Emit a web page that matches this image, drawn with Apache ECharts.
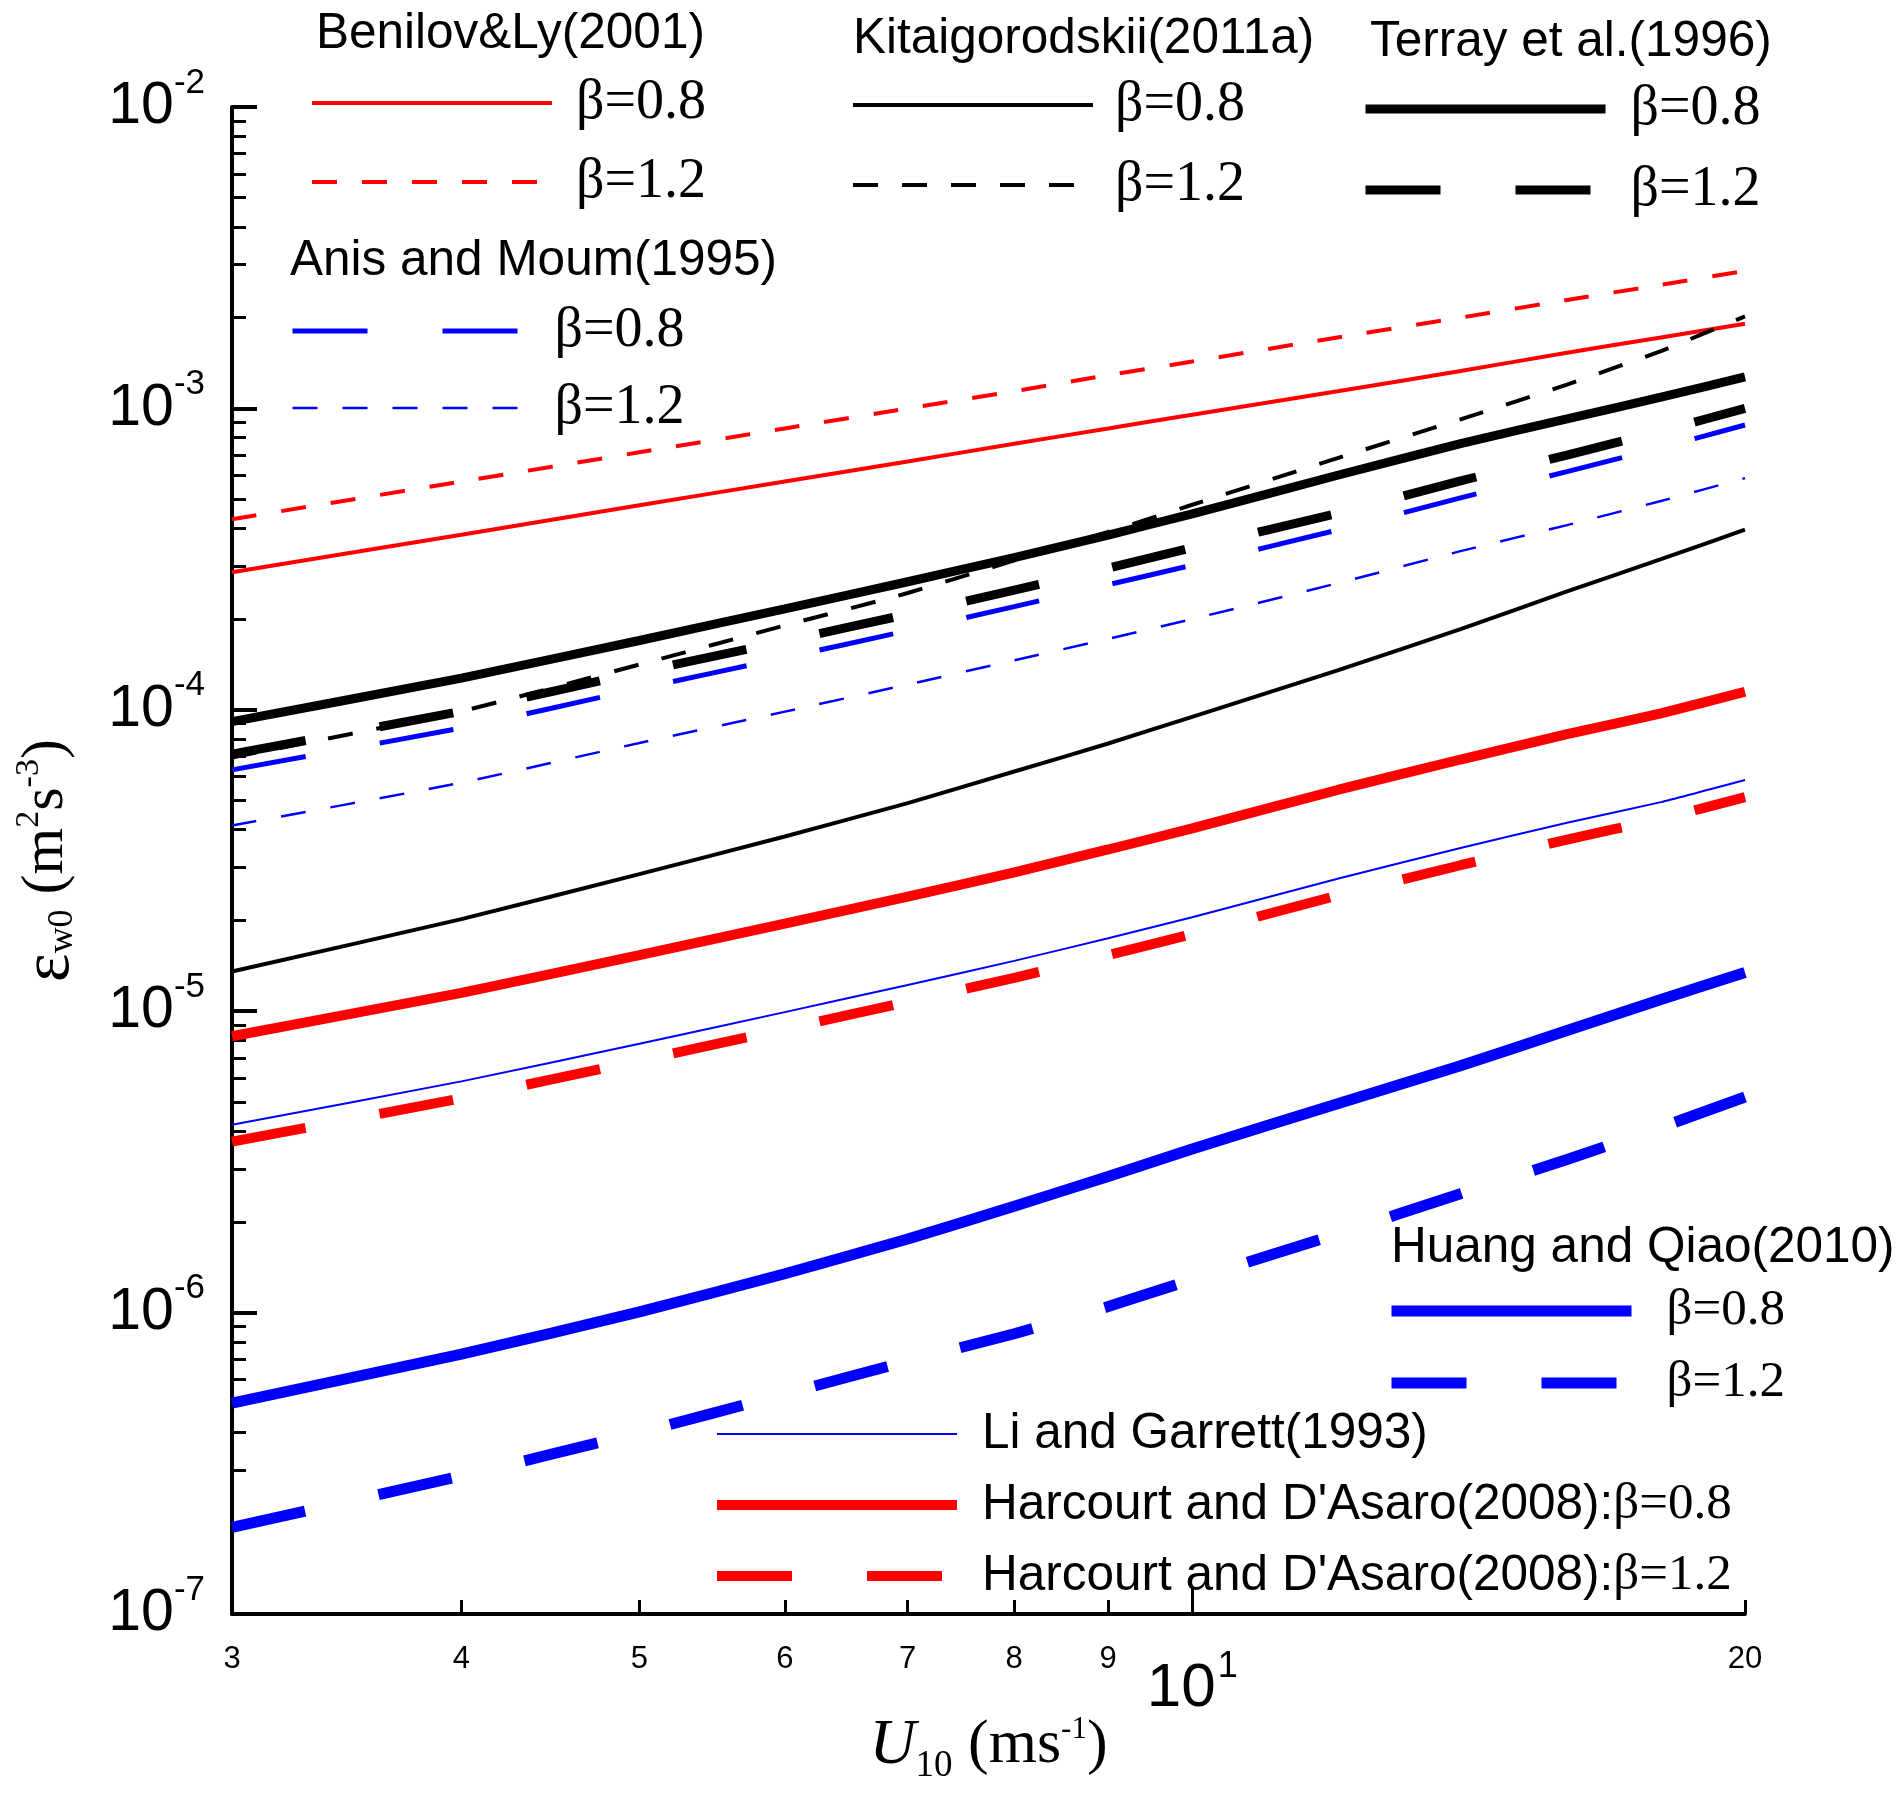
<!DOCTYPE html>
<html>
<head>
<meta charset="utf-8">
<script src="https://cdn.jsdelivr.net/npm/echarts@6/dist/echarts.min.js"></script>
<style>
html, body { margin: 0; padding: 0; background: #ffffff; }
#chart { width: 1900px; height: 1803px; }
</style>
</head>
<body>
<div id="chart"></div>
<script>
// ---------------- data ----------------
const windSpeed = [3, 4, 5, 6, 7, 8, 9, 10, 12, 14, 16, 18, 20];

const benilov08   = [2.86e-4, 3.81e-4, 4.77e-4, 5.72e-4, 6.67e-4, 7.63e-4, 8.58e-4, 9.53e-4, 1.14e-3, 1.33e-3, 1.53e-3, 1.72e-3, 1.91e-3];
const benilov12   = [4.29e-4, 5.72e-4, 7.15e-4, 8.58e-4, 1.00e-3, 1.14e-3, 1.29e-3, 1.43e-3, 1.72e-3, 2.00e-3, 2.29e-3, 2.57e-3, 2.86e-3];
const kitai08     = [1.355e-5, 2.02e-5, 2.85e-5, 3.80e-5, 4.90e-5, 6.24e-5, 7.73e-5, 9.48e-5, 1.352e-4, 1.853e-4, 2.47e-4, 3.16e-4, 3.96e-4];
const kitai12     = [6.95e-5, 9.89e-5, 1.413e-4, 1.905e-4, 2.44e-4, 3.13e-4, 3.89e-4, 4.79e-4, 6.84e-4, 9.20e-4, 1.20e-3, 1.55e-3, 2.02e-3];
const terray08    = [9.14e-5, 1.274e-4, 1.698e-4, 2.163e-4, 2.66e-4, 3.20e-4, 3.80e-4, 4.47e-4, 6.00e-4, 7.64e-4, 9.23e-4, 1.089e-3, 1.272e-3];
const terray12    = [7.13e-5, 9.89e-5, 1.334e-4, 1.69e-4, 2.075e-4, 2.495e-4, 2.95e-4, 3.45e-4, 4.49e-4, 5.75e-4, 7.00e-4, 8.41e-4, 1.00e-3];
const anis08      = [6.32e-5, 8.71e-5, 1.175e-4, 1.49e-4, 1.83e-4, 2.20e-4, 2.60e-4, 3.02e-4, 3.95e-4, 5.05e-4, 6.17e-4, 7.41e-4, 8.81e-4];
const anis12      = [4.13e-5, 5.73e-5, 7.76e-5, 9.86e-5, 1.213e-4, 1.459e-4, 1.72e-4, 2.00e-4, 2.63e-4, 3.36e-4, 4.10e-4, 4.93e-4, 5.87e-4];
const huang08     = [5.01e-7, 7.28e-7, 1.005e-6, 1.346e-6, 1.754e-6, 2.254e-6, 2.83e-6, 3.49e-6, 4.93e-6, 6.59e-6, 8.63e-6, 1.094e-5, 1.343e-5];
const huang12     = [1.94e-7, 2.87e-7, 4.00e-7, 5.37e-7, 6.90e-7, 8.51e-7, 1.047e-6, 1.288e-6, 1.824e-6, 2.48e-6, 3.22e-6, 4.12e-6, 5.19e-6];
const liGarrett   = [4.20e-6, 5.85e-6, 7.80e-6, 9.93e-6, 1.222e-5, 1.469e-5, 1.746e-5, 2.05e-5, 2.75e-5, 3.48e-5, 4.22e-5, 4.94e-5, 5.85e-5];
const harcourt08  = [8.26e-6, 1.151e-5, 1.535e-5, 1.954e-5, 2.40e-5, 2.89e-5, 3.44e-5, 4.04e-5, 5.42e-5, 6.84e-5, 8.30e-5, 9.73e-5, 1.148e-4];
const harcourt12  = [3.69e-6, 5.14e-6, 6.85e-6, 8.73e-6, 1.074e-5, 1.291e-5, 1.535e-5, 1.803e-5, 2.42e-5, 3.05e-5, 3.71e-5, 4.35e-5, 5.13e-5];

// tick labels
const xTickValues     = [3, 4, 5, 6, 7, 8, 9, 20];
const xDecadeTick     = [10];
const xDecadeLabel    = ['10', '1'];
const yDecadeTicks    = [1e-7, 1e-6, 1e-5, 1e-4, 1e-3, 1e-2];
const yTickExponents  = ['-7', '-6', '-5', '-4', '-3', '-2'];
const yMinorTicks = [];
yDecadeTicks.slice(0, 5).forEach(function (d) {
  for (let m = 2; m <= 9; m++) yMinorTicks.push(m * d);
});

// legend texts
const groupTitles = ['Benilov&Ly(2001)', 'Kitaigorodskii(2011a)', 'Terray et al.(1996)', 'Anis and Moum(1995)', 'Huang and Qiao(2010)'];
const betaLabels  = ['β=0.8', 'β=1.2'];
const liLabel     = 'Li and Garrett(1993)';
const harcourtLabel = "Harcourt and D'Asaro(2008):";

// ---------------- styling ----------------
const RED = '#ff0000', BLUE = '#0000ff', BLACK = '#000000';
const SANS = '"Liberation Sans", Arial, Helvetica, sans-serif';
const SERIF = '"Liberation Serif", "Times New Roman", Times, serif';

const seriesSpec = [
  { id: 'ben08', values: benilov08,  color: RED,   width: 4,   dash: 'solid',  label: betaLabels[0] },
  { id: 'ben12', values: benilov12,  color: RED,   width: 4,   dash: [25, 25], label: betaLabels[1] },
  { id: 'kit08', values: kitai08,    color: BLACK, width: 4,   dash: 'solid',  label: betaLabels[0] },
  { id: 'kit12', values: kitai12,    color: BLACK, width: 4,   dash: [25, 24], label: betaLabels[1] },
  { id: 'ter08', values: terray08,   color: BLACK, width: 9,   dash: 'solid',  label: betaLabels[0] },
  { id: 'ter12', values: terray12,   color: BLACK, width: 9,   dash: [75, 75], label: betaLabels[1] },
  { id: 'ani08', values: anis08,     color: BLUE,  width: 5,   dash: [75, 75], label: betaLabels[0] },
  { id: 'ani12', values: anis12,     color: BLUE,  width: 2.5, dash: [25, 25], label: betaLabels[1] },
  { id: 'hua08', values: huang08,    color: BLUE,  width: 11,  dash: 'solid',  label: '{h|' + betaLabels[0] + '}' },
  { id: 'hua12', values: huang12,    color: BLUE,  width: 11,  dash: [75, 75], label: '{h|' + betaLabels[1] + '}' },
  { id: 'li',    values: liGarrett,  color: BLUE,  width: 2,   dash: 'solid',  label: '{a|' + liLabel + '}' },
  { id: 'har08', values: harcourt08, color: RED,   width: 10,  dash: 'solid',  label: '{a|' + harcourtLabel + '}{b|' + betaLabels[0] + '}' },
  { id: 'har12', values: harcourt12, color: RED,   width: 10,  dash: [75, 75], label: '{a|' + harcourtLabel + '}{b|' + betaLabels[1] + '}' }
];
const legendText = {};
seriesSpec.forEach(function (s) { legendText[s.id] = s.label; });

const series = seriesSpec.map(function (s) {
  return {
    name: s.id,
    type: 'line',
    xAxisIndex: 0,
    yAxisIndex: 0,
    data: windSpeed.map(function (u, i) { return [u, s.values[i]]; }),
    symbol: 'none',
    showSymbol: false,
    smooth: 0.15,
    silent: true,
    color: s.color,
    lineStyle: { color: s.color, width: s.width, type: s.dash, cap: 'butt' },
    emphasis: { disabled: true }
  };
});

function makeLegend(ids, left, top, gap, width, padLeft) {
  return {
    data: ids,
    orient: 'vertical',
    left: left,
    top: top,
    padding: 0,
    itemGap: gap,
    itemWidth: width,
    itemHeight: 20,
    selectedMode: false,
    itemStyle: { opacity: 0 },
    lineStyle: { width: 'inherit', type: 'inherit', color: 'inherit' },
    formatter: function (name) { return legendText[name]; },
    textStyle: {
      fontFamily: SERIF, fontSize: 56, lineHeight: 60, color: '#000',
      padding: [0, 0, 0, padLeft],
      rich: {
        a: { fontFamily: SANS, fontSize: 49.5, lineHeight: 60, color: '#000' },
        b: { fontFamily: SERIF, fontSize: 51, lineHeight: 60, color: '#000' },
        h: { fontFamily: SERIF, fontSize: 51, lineHeight: 60, color: '#000' }
      }
    }
  };
}

const titlePos = [[316, 6], [853, 11], [1370, 14], [290, 233], [1391, 1220]];

const option = {
  animation: false,
  backgroundColor: '#ffffff',
  grid: { left: 232, right: 155, top: 107, bottom: 189, containLabel: false, outerBoundsMode: 'none' },
  title: groupTitles.map(function (t, i) {
    return {
      text: t, left: titlePos[i][0], top: titlePos[i][1], padding: 0,
      textStyle: { fontFamily: SANS, fontSize: 49.5, fontWeight: 'normal', color: '#000', lineHeight: 56 }
    };
  }),
  legend: [
    makeLegend(['ben08', 'ben12'], 310, 73, 19, 240, 19),
    makeLegend(['kit08', 'kit12'], 851, 75, 20, 240, 17),
    makeLegend(['ter08', 'ter12'], 1361, 79, 21, 240, 20),
    makeLegend(['ani08', 'ani12'], 290, 301, 17, 230, 27),
    makeLegend(['hua08', 'hua12'], 1386, 1281, 12, 240, 30),
    makeLegend(['li', 'har08', 'har12'], 712, 1404, 11, 240, 20)
  ],
  xAxis: [
    {
      type: 'log', logBase: 10, min: 3, max: 20, position: 'bottom', gridIndex: 0,
      axisLine: { show: true, onZero: false, lineStyle: { color: '#000', width: 4 } },
      axisTick: { show: true, inside: true, length: 14, customValues: xTickValues, lineStyle: { color: '#000', width: 3 } },
      minorTick: { show: false },
      splitLine: { show: false },
      axisLabel: {
        show: true, customValues: xTickValues, margin: 30, color: '#000',
        fontFamily: SANS, fontSize: 31, lineHeight: 31,
        formatter: function (v) { return String(Math.round(v)); }
      },
      name: '{u|U}{sub|10}{t| (ms}{sup|-1}{t|)}',
      nameLocation: 'middle',
      nameGap: 100,
      nameTextStyle: {
        color: '#000',
        rich: {
          u: { fontFamily: SERIF, fontStyle: 'italic', fontSize: 64, lineHeight: 64, color: '#000' },
          sub: { fontFamily: SERIF, fontSize: 37, lineHeight: 37, padding: [40, 0, 0, 0], color: '#000' },
          t: { fontFamily: SERIF, fontSize: 62, lineHeight: 62, color: '#000' },
          sup: { fontFamily: SERIF, fontSize: 31, lineHeight: 31, padding: [0, 0, 32, 0], color: '#000' }
        }
      }
    },
    {
      type: 'log', logBase: 10, min: 3, max: 20, position: 'bottom', gridIndex: 0,
      axisLine: { show: false, onZero: false },
      axisTick: { show: true, inside: true, length: 25, customValues: xDecadeTick, lineStyle: { color: '#000', width: 3 } },
      minorTick: { show: false },
      splitLine: { show: false },
      axisLabel: {
        show: true, customValues: xDecadeTick, margin: 44,
        formatter: function () { return '{b|' + xDecadeLabel[0] + '}{s|' + xDecadeLabel[1] + '}'; },
        rich: {
          b: { fontFamily: SANS, fontSize: 62, lineHeight: 62, color: '#000' },
          s: { fontFamily: SANS, fontSize: 36, lineHeight: 36, padding: [0, 0, 44, 2], color: '#000' }
        }
      }
    }
  ],
  yAxis: [
    {
      type: 'log', logBase: 10, min: 1e-7, max: 1e-2, position: 'left', gridIndex: 0,
      axisLine: { show: true, onZero: false, lineStyle: { color: '#000', width: 4 } },
      axisTick: { show: true, inside: true, length: 25, customValues: yDecadeTicks, lineStyle: { color: '#000', width: 4 } },
      minorTick: { show: false },
      splitLine: { show: false },
      axisLabel: {
        show: true, customValues: yDecadeTicks, margin: 27,
        formatter: function (v) {
          const e = Math.round(Math.log10(v));
          let idx = 0;
          yDecadeTicks.forEach(function (d, i) { if (Math.round(Math.log10(d)) === e) idx = i; });
          return '{b|10}{s|' + yTickExponents[idx] + '}';
        },
        rich: {
          b: { fontFamily: SANS, fontSize: 59, lineHeight: 59, color: '#000' },
          s: { fontFamily: SANS, fontSize: 35, lineHeight: 35, padding: [0, 0, 48, 0], color: '#000' }
        }
      },
      name: '{e|ε}{sub|w0}{t| (m}{sup|2}{t|s}{sup|-3}{t|)}',
      nameLocation: 'middle',
      nameRotate: 90,
      nameGap: 152,
      nameTextStyle: {
        color: '#000',
        rich: {
          e: { fontFamily: SERIF, fontSize: 68, lineHeight: 68, padding: [8, 0, 0, 0], color: '#000' },
          sub: { fontFamily: SERIF, fontSize: 36, lineHeight: 36, padding: [34, 0, 0, 0], color: '#000' },
          t: { fontFamily: SERIF, fontSize: 60, lineHeight: 60, color: '#000' },
          sup: { fontFamily: SERIF, fontSize: 34, lineHeight: 34, padding: [0, 0, 34, 0], color: '#000' }
        }
      }
    },
    {
      type: 'log', logBase: 10, min: 1e-7, max: 1e-2, position: 'left', gridIndex: 0,
      axisLine: { show: false, onZero: false },
      axisTick: { show: true, inside: true, length: 14, customValues: yMinorTicks, lineStyle: { color: '#000', width: 3 } },
      minorTick: { show: false },
      splitLine: { show: false },
      axisLabel: { show: false }
    }
  ],
  series: series
};

const chart = echarts.init(document.getElementById('chart'), null, { renderer: 'canvas', width: 1900, height: 1803 });
chart.setOption(option);
</script>
</body>
</html>
